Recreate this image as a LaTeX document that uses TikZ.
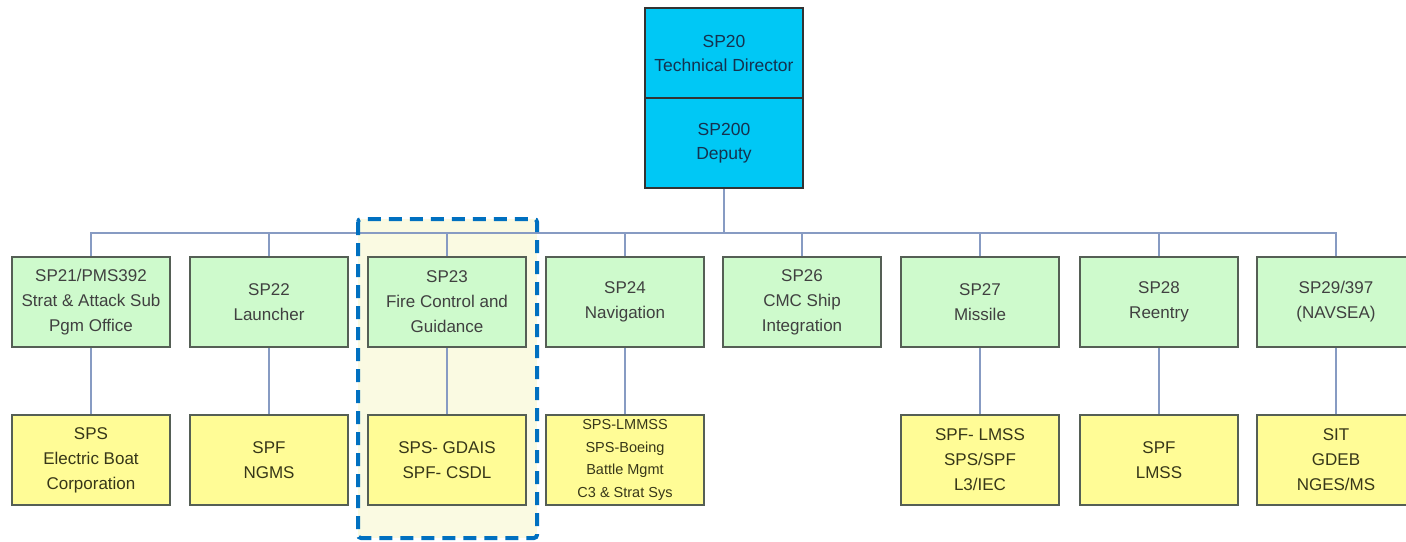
\documentclass[tikz,border=0pt]{standalone}
\usepackage{fontspec}
\setmainfont{Liberation Sans}
\definecolor{org_cyan}{RGB}{0, 200, 245}
\definecolor{org_green}{RGB}{206, 250, 204}
\definecolor{org_yellow}{RGB}{255, 252, 150}
\definecolor{org_edge}{RGB}{85, 95, 85}
\definecolor{org_link}{RGB}{135, 155, 195}
\definecolor{org_hilite}{RGB}{0, 112, 192}
\definecolor{org_pale}{RGB}{250, 250, 226}
\usetikzlibrary{positioning, calc}

\begin{document}
\begin{tikzpicture}[x=1pt, y=-1pt,
        unit/.style={rectangle, minimum width=158pt, minimum height=90pt,
                     inner sep=0pt, draw=org_edge, line width=2pt,
                     align=center, text=black!75,
                     font=\fontsize{17}{25}\selectfont},
        head/.style={unit, fill=org_cyan, draw=black!80, text={rgb,255:red,20;green,50;blue,80},
                     font=\fontsize{17.5}{24}\selectfont},
        office/.style={unit, fill=org_green},
        firm/.style={unit, fill=org_yellow, text={rgb,255:red,55;green,55;blue,25}},
        link/.style={org_link, line width=1.6pt},
      ]
        \useasboundingbox (0,0) rectangle (1406,541);

        % highlighted column
        \fill[org_pale] (358,219) rectangle (537,538);

        \node[head] (sp20)  at (724,53)  {SP20\\Technical Director};
        \node[head] (sp200) at (724,143) {SP200\\Deputy};

        \node[office] (g1) at (91,302)   {SP21/PMS392\\Strat \& Attack Sub\\Pgm Office};
        \node[office] (g2) at (269,302)  {SP22\\Launcher};
        \node[office] (g3) at (447,302)  {SP23\\Fire Control and\\Guidance};
        \node[office] (g4) at (625,302)  {SP24\\Navigation};
        \node[office] (g5) at (802,302)  {SP26\\CMC Ship\\Integration};
        \node[office] (g6) at (980,302)  {SP27\\Missile};
        \node[office] (g7) at (1159,302) {SP28\\Reentry};
        \node[office] (g8) at (1336,302) {SP29/397\\(NAVSEA)};

        \node[firm] (y1) at (91,460)   {SPS\\Electric Boat\\Corporation};
        \node[firm] (y2) at (269,460)  {SPF\\NGMS};
        \node[firm] (y3) at (447,460)  {SPS- GDAIS\\SPF- CSDL};
        \node[firm, font=\fontsize{14.5}{22.5}\selectfont] (y4) at (625,460)
          {SPS-LMMSS\\SPS-Boeing\\Battle Mgmt\\C3 \& Strat Sys};
        \node[firm] (y6) at (980,460)  {SPF- LMSS\\SPS/SPF\\L3/IEC};
        \node[firm] (y7) at (1159,460) {SPF\\LMSS};
        \node[firm] (y8) at (1336,460) {SIT\\GDEB\\NGES/MS};

        \coordinate (bus) at (724,233);
        \draw[link] (sp200.south) -- (bus);
        \foreach \g in {g1,g2,g3,g4,g5,g6,g7,g8}
          \draw[link] (bus) -| (\g.north);
        \foreach \g/\y in {g1/y1,g2/y2,g3/y3,g4/y4,g6/y6,g7/y7,g8/y8}
          \draw[link] (\g.south) -- (\y.north);

        \draw[org_hilite, line width=4pt, dash pattern=on 13pt off 8pt, rounded corners=3pt]
          (358,219) rectangle (537,538);
      \end{tikzpicture}
\end{document}
